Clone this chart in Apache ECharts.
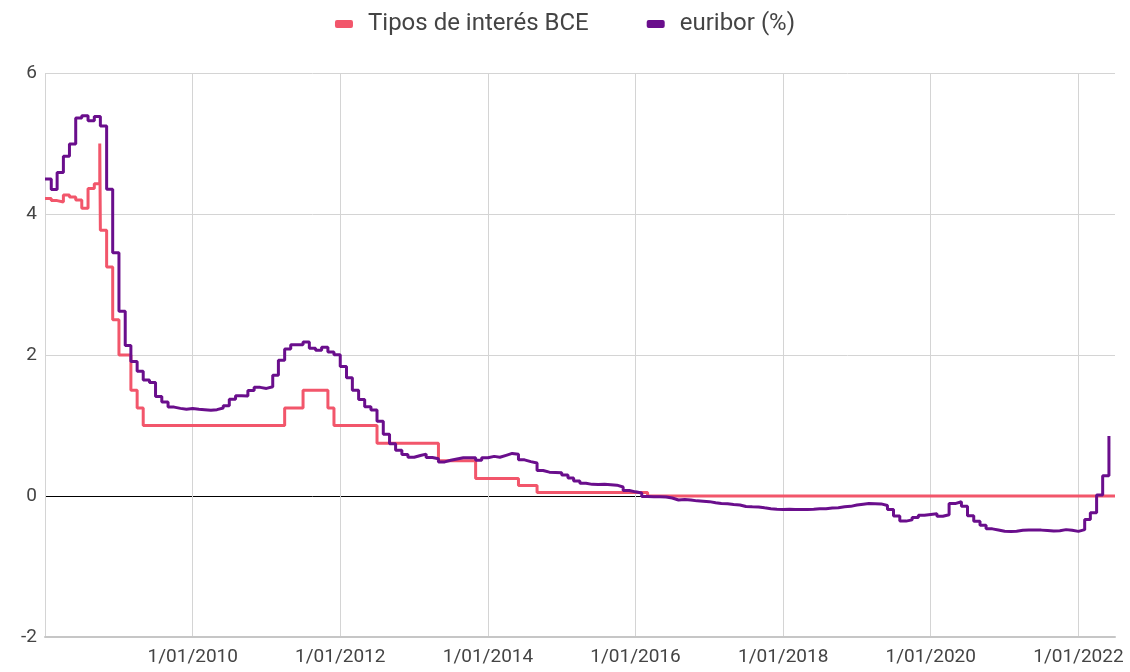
<!DOCTYPE html>
<html>
<head>
<meta charset="utf-8">
<title>Tipos de interés BCE / euribor</title>
<script src="https://cdn.jsdelivr.net/npm/echarts@6/dist/echarts.min.js"></script>
<style>
  html, body { margin: 0; padding: 0; background: #fff; }
  #main { width: 1130px; height: 672px; }
</style>
</head>
<body>
<div id="main"></div>
<script>
'use strict';

// series names (legend)
var seriesNames = ['Tipos de interés BCE', 'euribor (%)'];

// euribor: one value per month, starting 2008-01
var euriborStart = [2008, 1];
var euriborValues = [
  4.498, 4.349, 4.590, 4.820, 4.994, 5.361, 5.393, 5.323, 5.384, 5.248, 4.350, 3.452,
  2.622, 2.135, 1.909, 1.771, 1.644, 1.610, 1.412, 1.334, 1.261, 1.243, 1.231, 1.242,
  1.232, 1.225, 1.215, 1.225, 1.249, 1.281, 1.373, 1.421, 1.420, 1.495, 1.541, 1.526,
  1.550, 1.714, 1.924, 2.086, 2.147, 2.144, 2.183, 2.097, 2.067, 2.110, 2.044, 2.004,
  1.837, 1.678, 1.499, 1.368, 1.266, 1.219, 1.061, 0.877, 0.740, 0.650, 0.588, 0.549,
  0.575, 0.594, 0.545, 0.528, 0.484, 0.507, 0.525, 0.542, 0.543, 0.541, 0.506, 0.543,
  0.562, 0.549, 0.577, 0.604, 0.592, 0.513, 0.488, 0.469, 0.362, 0.338, 0.335, 0.329,
  0.298, 0.255, 0.212, 0.180, 0.165, 0.163, 0.167, 0.161, 0.154, 0.128, 0.079, 0.059,
  0.042, -0.008, -0.012, -0.010, -0.013, -0.028, -0.056, -0.048, -0.057, -0.069, -0.074, -0.080,
  -0.095, -0.106, -0.110, -0.119, -0.127, -0.149, -0.154, -0.156, -0.168, -0.180, -0.189, -0.190,
  -0.189, -0.191, -0.191, -0.190, -0.188, -0.181, -0.180, -0.169, -0.166, -0.154, -0.147, -0.129,
  -0.116, -0.108, -0.109, -0.112, -0.134, -0.190, -0.283, -0.356, -0.339, -0.304, -0.272, -0.261,
  -0.253, -0.288, -0.266, -0.108, -0.081, -0.147, -0.279, -0.359, -0.415, -0.466, -0.481, -0.499,
  -0.505, -0.501, -0.487, -0.484, -0.481, -0.484, -0.491, -0.498, -0.492, -0.477, -0.487, -0.502,
  -0.477, -0.335, -0.237, 0.013, 0.287, 0.852
];

// BCE: dates where the rate changes, and the rate from that date on
var bceDates = [
  '2008-01-01', '2008-02-01', '2008-03-01', '2008-04-01', '2008-05-01', '2008-06-01',
  '2008-07-01', '2008-08-01', '2008-09-01', '2008-09-28', '2008-10-01', '2008-11-01',
  '2008-12-01', '2009-01-01', '2009-03-01', '2009-04-01', '2009-05-01', '2011-04-01',
  '2011-07-01', '2011-11-01', '2011-12-01', '2012-07-01', '2013-05-01', '2013-11-01',
  '2014-06-01', '2014-09-01', '2016-03-01', '2022-07-01'
];
var bceValues = [
  4.22, 4.19, 4.17, 4.27, 4.24, 4.20,
  4.08, 4.36, 4.43, 5.00, 3.77, 3.25,
  2.50, 2.00, 1.50, 1.25, 1.00, 1.25,
  1.50, 1.25, 1.00, 0.75, 0.50, 0.25,
  0.15, 0.05, 0.00, 0.00
];

// axis range / ticks
var xMin = '2008-01-01';
var xMax = '2022-07-01';
var yTicks = [-2, 0, 2, 4, 6];

function pad (n) {
  return n < 10 ? '0' + n : '' + n;
}

function monthlyPairs (start, values) {
  var out = [];
  var y = start[0], m = start[1];
  for (var i = 0; i < values.length; i++) {
    out.push([y + '-' + pad(m) + '-01', values[i]]);
    m++;
    if (m > 12) { m = 1; y++; }
  }
  return out;
}

function zipPairs (dates, values) {
  var out = [];
  for (var i = 0; i < dates.length; i++) {
    out.push([dates[i], values[i]]);
  }
  return out;
}

var YEAR = 365.25 * 24 * 3600 * 1000;
var font = 'Roboto, Arial, sans-serif';
var minYear = new Date(xMin).getFullYear();

var myChart = echarts.init(document.getElementById('main'));

var option = {
  animation: false,
  color: ['#f2566b', '#6a0e8c'],
  legend: {
    top: 7,
    left: 'center',
    icon: 'roundRect',
    itemWidth: 18,
    itemHeight: 8,
    itemGap: 58,
    textStyle: { fontFamily: font, fontSize: 24, color: '#444', padding: [0, 0, 0, 10] },
    data: seriesNames
  },
  grid: { left: 45, right: 15, top: 73, bottom: 35, containLabel: false },
  xAxis: {
    type: 'time',
    min: xMin,
    max: xMax,
    minInterval: 2 * YEAR,
    maxInterval: 2 * YEAR,
    axisLine: { show: true, onZero: false, lineStyle: { color: '#c6c6c6', width: 2 } },
    axisTick: { show: false },
    splitLine: {
      show: true,
      showMinLine: false,
      showMaxLine: false,
      lineStyle: { color: '#d4d4d4', width: 1 }
    },
    axisLabel: {
      fontFamily: font,
      fontSize: 19,
      color: '#444',
      margin: 11,
      formatter: function (val) {
        var d = new Date(val);
        // no label at the left edge
        if (d.getFullYear() === minYear) {
          return '';
        }
        return d.getDate() + '/' + pad(d.getMonth() + 1) + '/' + d.getFullYear();
      }
    }
  },
  yAxis: {
    type: 'value',
    min: yTicks[0],
    max: yTicks[yTicks.length - 1],
    interval: 2,
    axisLine: { show: false },
    axisTick: { show: false },
    axisLabel: { fontFamily: font, fontSize: 19, color: '#444', margin: 8 },
    splitLine: {
      show: true,
      // -2 line sits under the x axis line, 0 is the black base line
      lineStyle: { color: ['#c6c6c6', '#000000', '#d4d4d4', '#d4d4d4', '#d4d4d4'], width: 1 }
    }
  },
  series: [
    {
      name: seriesNames[0],
      type: 'line',
      step: 'end',
      showSymbol: false,
      lineStyle: { width: 3 },
      data: zipPairs(bceDates, bceValues)
    },
    {
      name: seriesNames[1],
      type: 'line',
      step: 'end',
      showSymbol: false,
      lineStyle: { width: 3 },
      data: monthlyPairs(euriborStart, euriborValues)
    }
  ]
};

myChart.setOption(option);
window.qsrChart = myChart;
</script>
</body>
</html>
